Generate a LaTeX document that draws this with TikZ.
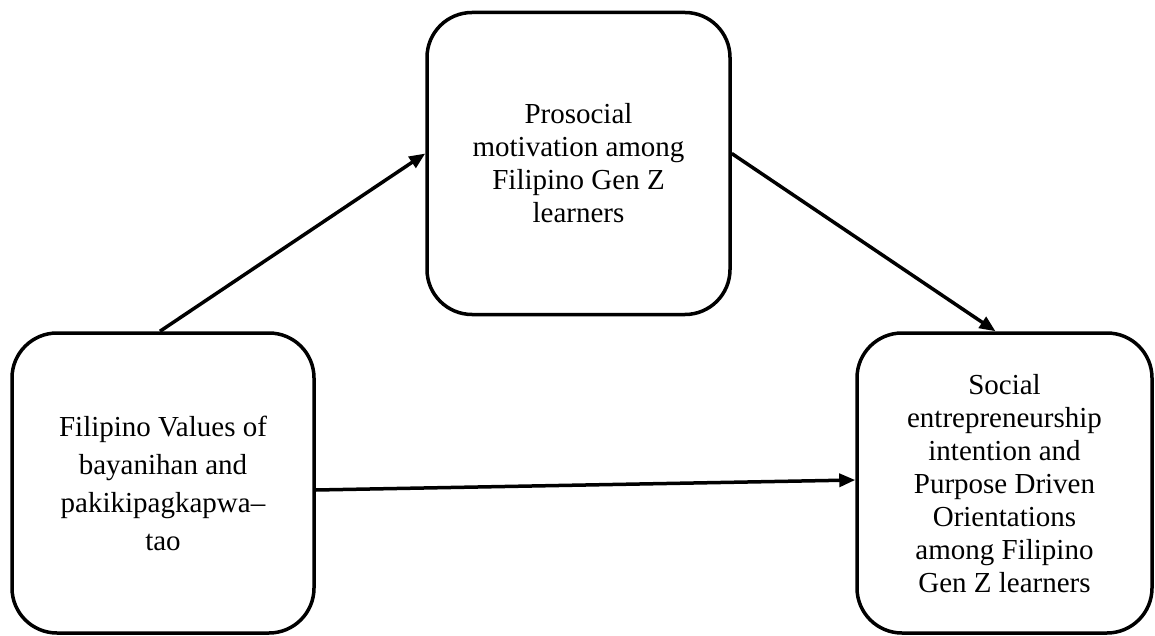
\documentclass[tikz,border=0pt]{standalone}
\usepackage{fontspec}
\setmainfont{Liberation Serif}
\usetikzlibrary{arrows.meta}
\begin{document}
\begin{tikzpicture}[x=1pt,y=1pt,
  box/.style={draw=black, line width=3.5pt, rounded corners=45pt, align=center,
    font=\fontsize{29}{33}\selectfont, inner sep=0pt},
  conn/.style={line width=3.5pt, -{Triangle[length=16pt,width=13pt]}}]
\useasboundingbox (0,0) rectangle (1155,-636);
\node[box, minimum width=302pt, minimum height=300pt, font=\fontsize{29}{38}\selectfont] (L) at (163,-483)
  {Filipino Values of\\bayanihan and\\pakikipagkapwa–\\tao};
\node[box, minimum width=303pt, minimum height=302pt] (T) at (578.5,-163.5)
  {Prosocial\\motivation among\\Filipino Gen Z\\learners};
\node[box, minimum width=295pt, minimum height=300pt, text depth=0pt] (R) at (1004.5,-483)
  {Social\\entrepreneurship\\intention and\\Purpose Driven\\Orientations\\among Filipino\\Gen Z learners};
\draw[conn] ([xshift=-3pt]L.north) -- ([yshift=10pt]T.west);
\draw[conn] ([yshift=10pt]T.east) -- ([xshift=-9pt]R.north);
\draw[conn] ([yshift=-7pt]L.east) -- ([yshift=3pt]R.west);
\end{tikzpicture}
\end{document}
